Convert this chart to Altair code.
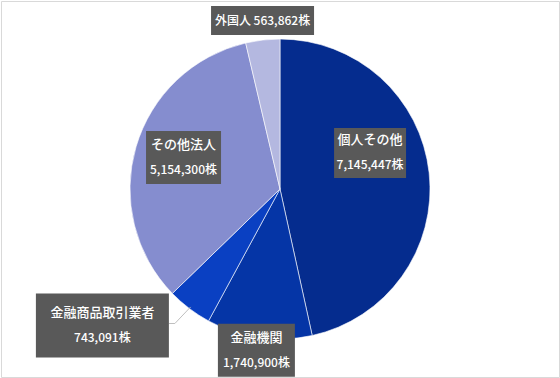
import math
import altair as alt
import pandas as pd

# ---- data ----
categories = ["個人その他", "金融機関", "金融商品取引業者", "その他法人", "外国人"]
shares = [7145447, 1740900, 743091, 5154300, 563862]
unit = "株"

# ---- style / layout ----
colors = ["#052C8E", "#0535A6", "#0A40C2", "#858DCF", "#B4B8E0"]
CX, CY, R = 280, 189, 150
label_dist = [97, 163, 224, 101.5, 169.4]
label_shift = [-15.6, 0.3, 15.3, 1.8, 0.7]
box_w = [72, 77, 133, 75, 103]
box_h = [50, 53, 64, 53, 29]
single_line = [False, False, False, False, True]
leader = [False, False, True, False, False]
FONT = "Noto Sans CJK JP"
NAME_SIZE, NUM_SIZE = 13, 12

total = sum(shares)
rows, boxes, texts, lines = [], [], [], []
cum = 0
for i, (c, v) in enumerate(zip(categories, shares)):
    rows.append({"category": c, "value": v, "idx": i})
    mid = (cum + v / 2) / total * 360
    cum += v
    a = math.radians(mid + label_shift[i])
    lx = CX + label_dist[i] * math.sin(a)
    ly = CY - label_dist[i] * math.cos(a)
    boxes.append({"x": lx - box_w[i] / 2, "x2": lx + box_w[i] / 2,
                  "y": ly - box_h[i] / 2, "y2": ly + box_h[i] / 2})
    val = f"{v:,}{unit}"
    if single_line[i]:
        texts.append({"x": lx, "y": ly, "t": f"{c} {val}", "s": NUM_SIZE})
    else:
        texts.append({"x": lx, "y": ly - 12.5, "t": c, "s": NAME_SIZE})
        texts.append({"x": lx, "y": ly + 12.5, "t": val, "s": NUM_SIZE})
    if leader[i]:
        am = math.radians(mid)
        ex = CX + (R - 2) * math.sin(am)
        ey = CY - (R - 2) * math.cos(am)
        bx = lx + box_w[i] / 2
        by = ly - 2
        lines += [{"x": bx, "y": by, "o": 0}, {"x": bx + 6, "y": by, "o": 1},
                  {"x": ex, "y": ey, "o": 2}]

df = pd.DataFrame(rows)
W, H = 558, 376
xs = alt.Scale(domain=[1, 559])
ys = alt.Scale(domain=[1, 377], reverse=True)

arcs = alt.Chart(df).mark_arc(outerRadius=R, stroke="white", strokeWidth=0.6).encode(
    theta=alt.Theta("value:Q", stack=True),
    color=alt.Color("category:N", scale=alt.Scale(domain=categories, range=colors), legend=None),
    order=alt.Order("idx:Q"),
)

lead = alt.Chart(pd.DataFrame(lines)).mark_line(color="#BFBFBF", strokeWidth=1).encode(
    x=alt.X("x:Q", scale=xs, axis=None),
    y=alt.Y("y:Q", scale=ys, axis=None),
    order=alt.Order("o:Q"),
)

rects = alt.Chart(pd.DataFrame(boxes)).mark_rect(color="#595959").encode(
    x=alt.X("x:Q", scale=xs, axis=None), x2="x2:Q",
    y=alt.Y("y:Q", scale=ys, axis=None), y2="y2:Q",
)

labels = alt.Chart(pd.DataFrame(texts)).mark_text(
    font=FONT, color="white", align="center", baseline="middle", fontWeight=500
).encode(
    x=alt.X("x:Q", scale=xs, axis=None),
    y=alt.Y("y:Q", scale=ys, axis=None),
    size=alt.Size("s:Q", scale=None, legend=None),
    text="t:N",
)

chart = alt.layer(arcs, lead, rects, labels).properties(
    width=W, height=H, padding=1, background="white"
).configure_view(stroke="#D9D9D9", strokeWidth=1)

chart.save("out.html", embed_options={"renderer": "svg", "actions": False})
